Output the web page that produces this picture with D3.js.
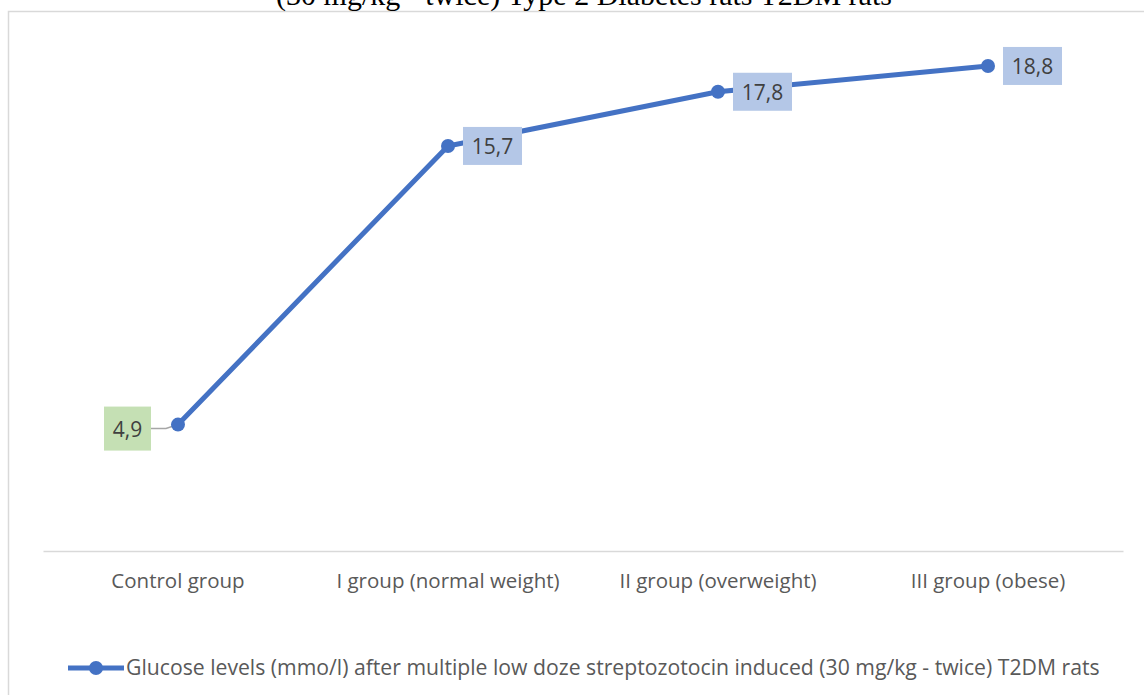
<!DOCTYPE html>
<html><head><meta charset="utf-8">
<script src="https://cdn.jsdelivr.net/npm/d3@7"></script>
<style>html,body{margin:0;padding:0;background:#fff;overflow:hidden}</style>
</head><body>
<svg id="c" width="1144" height="695"></svg>
<script>
const categories = ["Control group", "I group (normal weight)", "II group (overweight)", "III group (obese)"];
const values = [4.9, 15.7, 17.8, 18.8];
const labels = ["4,9", "15,7", "17,8", "18,8"];
const labelFills = ["#c5e0b4", "#b4c7e7", "#b4c7e7", "#b4c7e7"];
const seriesName = "Glucose levels (mmo/l) after multiple low doze streptozotocin induced (30 mg/kg - twice) T2DM rats";
const titleText = "(30 mg/kg - twice) Type 2 Diabetes rats T2DM rats";

const svg = d3.select("#c");
const font = "'Open Sans', 'Noto Sans', sans-serif";

// chart frame
svg.append("rect").attr("x", 8.5).attr("y", 11.5).attr("width", 1160).attr("height", 700)
  .attr("fill", "#fff").attr("stroke", "#d9d9d9").attr("stroke-width", 1.5);

// title (clipped by the page top in the reference)
svg.append("text").attr("x", 584).attr("y", 5).attr("text-anchor", "middle")
  .attr("font-family", "'Liberation Serif', serif").attr("font-size", 30).attr("fill", "#000")
  .text(titleText);

const x = d3.scaleBand().domain(categories).range([43, 1123]);
const y = d3.scaleLinear().domain([0, 20]).range([551, 35]);

// axis
const ax = svg.append("g").attr("transform", "translate(0,551)")
  .call(d3.axisBottom(x).tickSize(0).tickPadding(22));
ax.select(".domain").attr("stroke", "#d9d9d9").attr("stroke-width", 1.5);
ax.selectAll("text").attr("font-family", font).attr("font-size", 20.5).attr("fill", "#595959");

const cx = d => x(d) + x.bandwidth() / 2;
const pts = categories.map((c, i) => ({c, v: values[i], l: labels[i], f: labelFills[i]}));

// leader line for first label
svg.append("path")
  .attr("d", `M${cx(pts[0].c) - 27},${y(pts[0].v) + 4} L${cx(pts[0].c) - 12},${y(pts[0].v) + 4} L${cx(pts[0].c)},${y(pts[0].v)}`)
  .attr("fill", "none").attr("stroke", "#a6a6a6").attr("stroke-width", 1.5);

svg.append("path").datum(pts)
  .attr("d", d3.line().x(d => cx(d.c)).y(d => y(d.v)))
  .attr("fill", "none").attr("stroke", "#4472c4").attr("stroke-width", 5).attr("stroke-linejoin", "round");

svg.selectAll("circle.m").data(pts).join("circle").attr("class", "m")
  .attr("cx", d => cx(d.c)).attr("cy", d => y(d.v)).attr("r", 7).attr("fill", "#4472c4");

// data labels
const lab = svg.selectAll("g.lab").data(pts).join("g").attr("class", "lab")
  .attr("transform", (d, i) => i === 0
    ? `translate(${cx(d.c) - 74},${y(d.v) - 18})`
    : `translate(${cx(d.c) + 15},${y(d.v) - 19})`);
lab.append("rect").attr("width", (d, i) => i === 0 ? 47 : 59).attr("height", (d, i) => i === 0 ? 44 : 38).attr("fill", d => d.f);
lab.append("text").attr("x", (d, i) => (i === 0 ? 47 : 59) / 2).attr("y", (d, i) => i === 0 ? 30 : 27).attr("text-anchor", "middle")
  .attr("font-family", font).attr("font-size", 21).attr("fill", "#404040").text(d => d.l);

// legend
const lg = svg.append("g").attr("transform", "translate(68,668)");
lg.append("line").attr("x1", 0).attr("x2", 56).attr("stroke", "#4472c4").attr("stroke-width", 5);
lg.append("circle").attr("cx", 28).attr("r", 7).attr("fill", "#4472c4");
lg.append("text").attr("x", 58).attr("y", 7).attr("font-family", font).attr("font-size", 21.2)
  .attr("fill", "#595959").text(seriesName);
</script>
</body></html>
